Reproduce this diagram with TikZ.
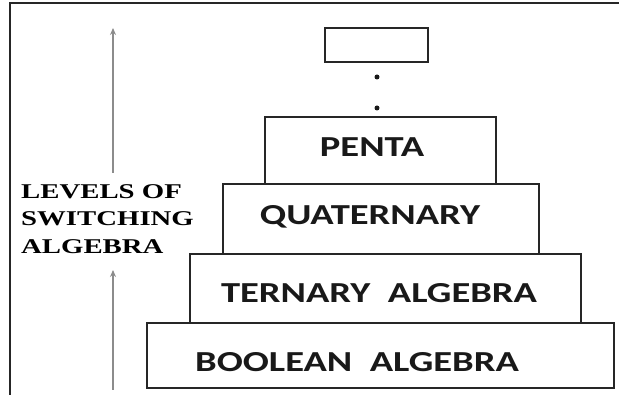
\documentclass[tikz,border=0pt]{standalone}
\usepackage{fontspec}
\usepackage{graphicx}
\setmainfont{Carlito}
\newfontfamily\serifbold{Liberation Serif}
\usetikzlibrary{arrows.meta}
\tikzset{
  level/.style={draw=black!85, line width=1.8pt, inner sep=0pt},
  levtext/.style={font=\fontsize{29}{31}\selectfont\bfseries, inner sep=0pt, text=black!90},
  axisarrow/.style={draw=black!45, line width=1.3pt, -{Stealth[length=7pt,width=6pt]}},
  dotmark/.style={circle, fill=black!90, inner sep=0pt, minimum size=5pt}
}
\newcommand{\wide}[1]{\scalebox{1.33}[1]{#1}}
\newcommand{\wider}[1]{\scalebox{1.37}[1]{#1}}
\begin{document}
\begin{tikzpicture}[x=1pt,y=1pt]
  \useasboundingbox (0,0) rectangle (619,395);
  % frame: left edge and top edge
  \draw[black!85, line width=2pt] (10,0) -- (10,392) -- (620,392);

  % stacked levels, bottom to top
  \node[level, minimum width=467pt, minimum height=65pt] (bool) at (380.5,39.5) {};
  \node[level, minimum width=391pt, minimum height=69pt] (tern) at (385.5,106.5) {};
  \node[level, minimum width=316pt, minimum height=70pt] (quat) at (381,176) {};
  \node[level, minimum width=231pt, minimum height=67pt] (penta) at (380.5,244.5) {};
  \node[level, minimum width=103pt, minimum height=34pt] (open) at (376.5,350) {};

  % labels inside the levels
  \node[levtext] (tbool) at (357,33) {\wide{BOOLEAN\ \ ALGEBRA}};
  \node[levtext] (ttern) at (379,102) {\wide{TERNARY\ \ ALGEBRA}};
  \node[levtext] (tquat) at (370,178) {\wide{QUATERNARY}};
  \node[levtext] (tpenta) at (372,248) {\wide{PENTA}};

  % continuation dots
  \node[dotmark] (d1) at (377,318) {};
  \node[dotmark] (d2) at (377,287) {};

  % axis label
  \node[anchor=west, align=left, inner sep=0pt, text=black,
        font=\serifbold\fontsize{21}{27.5}\selectfont\bfseries] (axis) at (21,176)
        {\wider{LEVELS OF}\\\wider{SWITCHING}\\\wider{ALGEBRA}};

  % axis arrows
  \coordinate (upA) at (113,222);
  \coordinate (upB) at (113,367);
  \coordinate (loA) at (113,5);
  \coordinate (loB) at (113,125);
  \draw[axisarrow] (upA) -- (upB);
  \draw[axisarrow] (loA) -- (loB);
\end{tikzpicture}
\end{document}
